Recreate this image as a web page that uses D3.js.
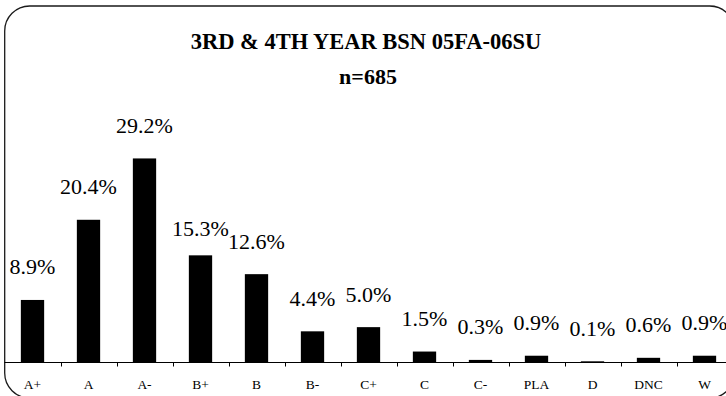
<!DOCTYPE html>
<html>
<head>
<meta charset="utf-8">
<script src="https://cdn.jsdelivr.net/npm/d3@7/dist/d3.min.js"></script>
<style>
  html, body { margin: 0; padding: 0; background: #fff; }
  svg { display: block; }
  svg text { font-family: "Liberation Serif", "DejaVu Serif", serif; }
</style>
</head>
<body>
<svg id="chart" width="726" height="396"></svg>
<script>
// Grade distribution, percent of students
const grades = ["A+", "A", "A-", "B+", "B", "B-", "C+", "C", "C-", "PLA", "D", "DNC", "W"];
const percents = [8.9, 20.4, 29.2, 15.3, 12.6, 4.4, 5.0, 1.5, 0.3, 0.9, 0.1, 0.6, 0.9];
const titleLines = ["3RD & 4TH YEAR BSN 05FA-06SU", "n=685"];

const svg = d3.select("#chart");

// Rounded chart frame
svg.append("rect")
  .attr("x", 4.7).attr("y", 6)
  .attr("width", 730).attr("height", 392)
  .attr("rx", 25).attr("ry", 25)
  .attr("fill", "#fff")
  .attr("stroke", "#1a1a1a")
  .attr("stroke-width", 1.3);

// Titles
svg.append("text")
  .attr("x", 366).attr("y", 49)
  .attr("text-anchor", "middle")
  .style("font-weight", "bold")
  .style("font-size", "22.5px")
  .text(titleLines[0]);
svg.append("text")
  .attr("x", 368).attr("y", 84)
  .attr("text-anchor", "middle")
  .style("font-weight", "bold")
  .style("font-size", "22px")
  .text(titleLines[1]);

// Scales
const plotLeft = 4.5, plotRight = 732.5, baseY = 362;
const pad = 1 - 23.3 / 56;
const x = d3.scaleBand().domain(grades).range([plotLeft, plotRight])
  .paddingInner(pad).paddingOuter(pad / 2);
const y = d3.scaleLinear().domain([0, 35]).range([baseY, 118]);

const data = grades.map((g, i) => ({ grade: g, value: percents[i] }));

// Bars
svg.append("g").selectAll("rect")
  .data(data).join("rect")
  .attr("x", d => x(d.grade))
  .attr("y", d => y(d.value))
  .attr("width", x.bandwidth())
  .attr("height", d => baseY - y(d.value))
  .attr("fill", "#000");

// Value labels above the bars
const labelLift = { "B+": 19 };
svg.append("g").selectAll("text")
  .data(data).join("text")
  .attr("x", d => x(d.grade) + x.bandwidth() / 2)
  .attr("y", d => y(d.value) - (labelLift[d.grade] ?? 25.5))
  .attr("text-anchor", "middle")
  .style("font-size", "22px")
  .attr("fill", "#000")
  .text(d => d.value.toFixed(1) + "%");

// Category axis
const axis = d3.axisBottom(x).tickSize(0).tickPadding(0);
const gx = svg.append("g").attr("transform", `translate(0,${baseY + 0.5})`).call(axis);
gx.select(".domain").remove();
gx.attr("font-family", null).attr("font-size", null);
gx.selectAll("text")
  .attr("y", 26.5).attr("dy", null)
  .style("font-size", "13.5px")
  .attr("fill", "#000");

// Axis line and tick marks between categories
svg.append("line")
  .attr("x1", plotLeft).attr("x2", plotRight)
  .attr("y1", baseY + 0.5).attr("y2", baseY + 0.5)
  .attr("stroke", "#000").attr("stroke-width", 1);
const step = x.step();
const bounds = grades.slice(1).map(g => Math.round(x(g) - (step - x.bandwidth()) / 2) + 0.5);
svg.append("g").selectAll("line")
  .data(bounds).join("line")
  .attr("x1", d => d).attr("x2", d => d)
  .attr("y1", baseY).attr("y2", baseY + 4.5)
  .attr("stroke", "#000").attr("stroke-width", 1);
</script>
</body>
</html>
